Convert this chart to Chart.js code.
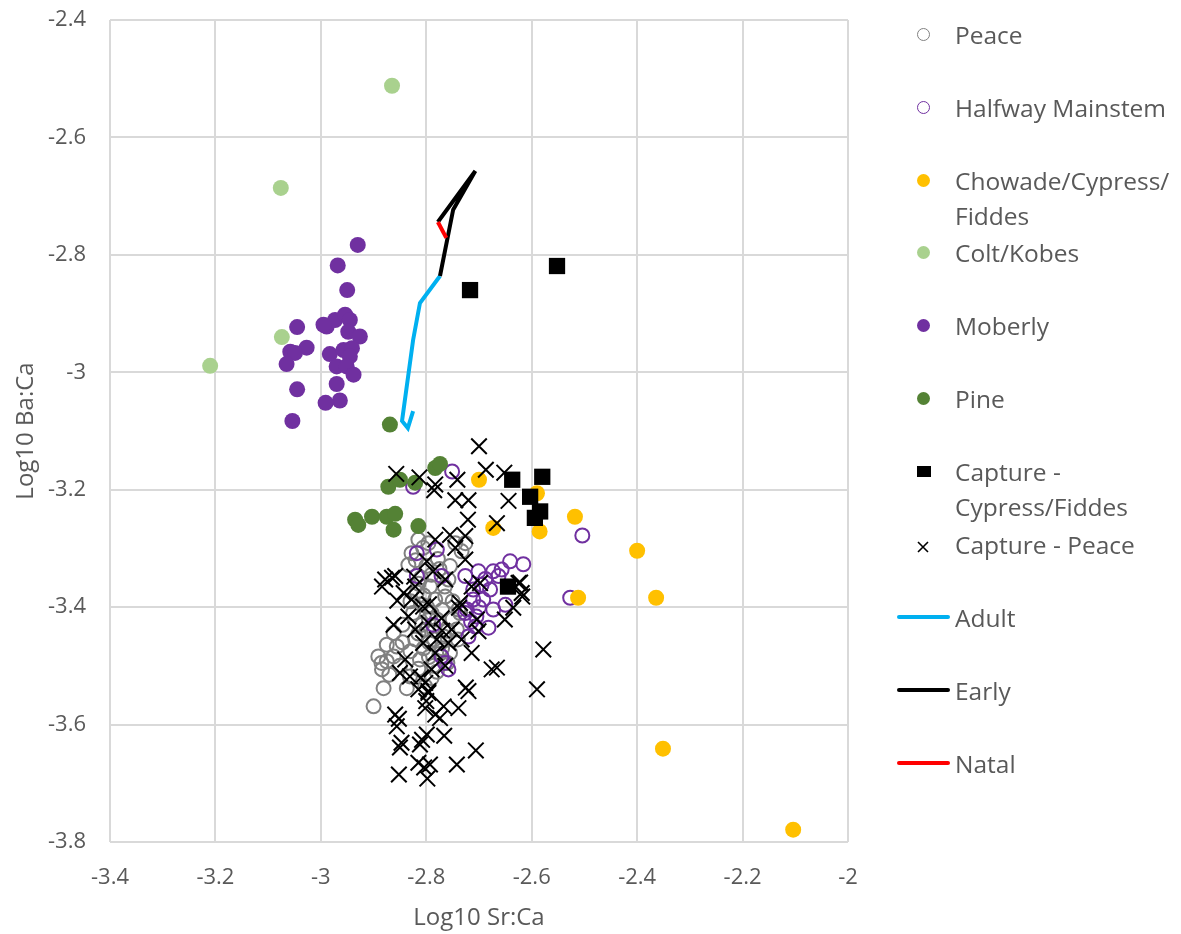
<!DOCTYPE html>
<html>
<head>
<meta charset="utf-8">
<script src="https://cdn.jsdelivr.net/npm/chart.js@4.4.0/dist/chart.umd.min.js"></script>
<style>
    body { margin: 0; background: #fff; font-family: "Open Sans", sans-serif; }
    #wrap { position: relative; width: 1181px; height: 934px; }
    #legend { position: absolute; left: 0; top: 0; }
    .item { position: absolute; left: 955px; font-size: 24.5px; color: #595959; line-height: 35px; white-space: nowrap; }
    .mk { position: absolute; box-sizing: border-box; }
</style>
</head>
<body>
<div id="wrap">
    <canvas id="chart" width="1181" height="934"></canvas>
    <div id="legend"></div>
</div>
<script>
const xTicks = [-3.4, -3.2, -3, -2.8, -2.6, -2.4, -2.2, -2];
const yTicks = [-2.4, -2.6, -2.8, -3, -3.2, -3.4, -3.6, -3.8];

// [Sr:Ca, Ba:Ca] pairs
const peace = [
    [-2.815, -3.285], [-2.796, -3.291], [-2.828, -3.308], [-2.806, -3.299], [-2.834, -3.328],
    [-2.755, -3.330], [-2.733, -3.305], [-2.745, -3.291], [-2.726, -3.291], [-2.793, -3.365],
    [-2.758, -3.353], [-2.783, -3.387], [-2.764, -3.382], [-2.739, -3.404], [-2.790, -3.410],
    [-2.875, -3.464], [-2.875, -3.492], [-2.884, -3.506], [-2.856, -3.467], [-2.862, -3.444],
    [-2.881, -3.538], [-2.900, -3.569], [-2.831, -3.518], [-2.837, -3.538], [-2.812, -3.489],
    [-2.821, -3.455], [-2.799, -3.438], [-2.767, -3.450], [-2.755, -3.478], [-2.780, -3.421],
    [-2.799, -3.399], [-2.825, -3.410], [-2.736, -3.410], [-2.742, -3.438], [-2.790, -3.521],
    [-2.802, -3.535], [-2.891, -3.484], [-2.862, -3.484], [-2.810, -3.350], [-2.778, -3.318],
    [-2.770, -3.470], [-2.786, -3.500], [-2.808, -3.430], [-2.845, -3.430], [-2.750, -3.420],
    [-2.818, -3.375], [-2.770, -3.405], [-2.785, -3.455], [-2.805, -3.470], [-2.760, -3.440],
    [-2.820, -3.320], [-2.800, -3.330], [-2.790, -3.345], [-2.815, -3.360], [-2.830, -3.390],
    [-2.810, -3.395], [-2.795, -3.420], [-2.815, -3.445], [-2.795, -3.460], [-2.775, -3.480],
    [-2.795, -3.485], [-2.780, -3.510], [-2.815, -3.505], [-2.765, -3.365], [-2.750, -3.390],
    [-2.740, -3.455], [-2.760, -3.495], [-2.845, -3.460], [-2.850, -3.500], [-2.870, -3.515],
    [-2.885, -3.495], [-2.805, -3.380], [-2.775, -3.335], [-2.785, -3.440], [-2.830, -3.475]
];
const halfway = [
    [-2.504, -3.278], [-2.527, -3.384], [-2.825, -3.195], [-2.751, -3.169], [-2.641, -3.322],
    [-2.616, -3.327], [-2.726, -3.347], [-2.701, -3.339], [-2.673, -3.339], [-2.657, -3.336],
    [-2.663, -3.347], [-2.695, -3.362], [-2.679, -3.370], [-2.711, -3.370], [-2.711, -3.387],
    [-2.692, -3.387], [-2.650, -3.396], [-2.723, -3.404], [-2.673, -3.404], [-2.705, -3.416],
    [-2.682, -3.435], [-2.707, -3.433], [-2.818, -3.308], [-2.780, -3.302], [-2.818, -3.347],
    [-2.771, -3.347], [-2.787, -3.430], [-2.771, -3.484], [-2.758, -3.506], [-2.720, -3.450],
    [-2.726, -3.410], [-2.700, -3.400], [-2.688, -3.352], [-2.715, -3.425], [-2.765, -3.495]
];
const chowade = [
    [-2.700, -3.183], [-2.673, -3.265], [-2.590, -3.206], [-2.585, -3.271], [-2.518, -3.246],
    [-2.512, -3.384], [-2.400, -3.304], [-2.364, -3.384], [-2.351, -3.641], [-2.104, -3.779]
];
const colt = [[-2.865, -2.512], [-3.076, -2.686], [-3.074, -2.940], [-3.210, -2.989]];
const moberly = [
    [-2.930, -2.783], [-2.968, -2.818], [-2.950, -2.860], [-3.045, -2.923], [-2.989, -2.922],
    [-2.973, -2.911], [-2.954, -2.902], [-2.945, -2.911], [-2.995, -2.919], [-2.948, -2.931],
    [-2.926, -2.939], [-3.027, -2.958], [-3.058, -2.965], [-3.049, -2.967], [-3.065, -2.986],
    [-2.983, -2.969], [-2.957, -2.962], [-2.941, -2.959], [-2.945, -2.973], [-2.970, -2.990],
    [-2.951, -2.990], [-2.938, -3.004], [-2.970, -3.020], [-3.045, -3.029], [-2.964, -3.048],
    [-2.991, -3.052], [-3.054, -3.083]
];
const pine = [
    [-2.869, -3.089], [-2.872, -3.195], [-2.850, -3.183], [-2.821, -3.188], [-2.783, -3.163],
    [-2.774, -3.156], [-2.903, -3.246], [-2.875, -3.246], [-2.859, -3.241], [-2.862, -3.268],
    [-2.815, -3.262], [-2.935, -3.251], [-2.929, -3.260]
];
const captureCF = [
    [-2.717, -2.860], [-2.552, -2.819], [-2.637, -3.183], [-2.580, -3.178], [-2.603, -3.212],
    [-2.584, -3.237], [-2.594, -3.248], [-2.645, -3.365]
];
const capturePeace = [
    [-2.700, -3.126], [-2.687, -3.166], [-2.857, -3.173], [-2.813, -3.179], [-2.783, -3.191],
    [-2.785, -3.201], [-2.741, -3.183], [-2.652, -3.171], [-2.745, -3.218], [-2.720, -3.218],
    [-2.644, -3.219], [-2.721, -3.251], [-2.666, -3.257], [-2.622, -3.358], [-2.618, -3.382],
    [-2.651, -3.421], [-2.666, -3.503], [-2.578, -3.472], [-2.590, -3.540], [-2.706, -3.644],
    [-2.742, -3.668], [-2.725, -3.537], [-2.738, -3.401], [-2.884, -3.365], [-2.865, -3.350],
    [-2.855, -3.389], [-2.823, -3.348], [-2.852, -3.590], [-2.850, -3.639], [-2.852, -3.685],
    [-2.804, -3.673], [-2.798, -3.692], [-2.766, -3.619], [-2.808, -3.626], [-2.859, -3.583],
    [-2.856, -3.603], [-2.847, -3.631], [-2.812, -3.634], [-2.799, -3.617], [-2.802, -3.572],
    [-2.783, -3.583], [-2.774, -3.589], [-2.767, -3.569], [-2.739, -3.572], [-2.796, -3.546],
    [-2.720, -3.543], [-2.815, -3.665], [-2.793, -3.668], [-2.862, -3.430], [-2.834, -3.416],
    [-2.821, -3.438], [-2.796, -3.427], [-2.771, -3.419], [-2.752, -3.438], [-2.733, -3.455],
    [-2.714, -3.478], [-2.758, -3.461], [-2.783, -3.478], [-2.806, -3.461], [-2.840, -3.489],
    [-2.850, -3.512], [-2.831, -3.518], [-2.802, -3.529], [-2.796, -3.543], [-2.790, -3.506],
    [-2.764, -3.500], [-2.676, -3.506], [-2.878, -3.353], [-2.859, -3.347], [-2.843, -3.376],
    [-2.821, -3.365], [-2.799, -3.322], [-2.783, -3.285], [-2.755, -3.277], [-2.726, -3.279],
    [-2.745, -3.299], [-2.726, -3.319], [-2.787, -3.339], [-2.764, -3.353], [-2.806, -3.399],
    [-2.828, -3.387], [-2.714, -3.365], [-2.698, -3.359], [-2.625, -3.359], [-2.619, -3.376],
    [-2.635, -3.401], [-2.704, -3.421], [-2.701, -3.441], [-2.736, -3.393], [-2.810, -3.520],
    [-2.815, -3.540], [-2.800, -3.560], [-2.780, -3.455], [-2.770, -3.440], [-2.795, -3.395]
];
const adult = [[-2.825, -3.066], [-2.835, -3.095], [-2.846, -3.083], [-2.825, -2.945], [-2.812, -2.882], [-2.774, -2.836]];
const early = [[-2.774, -2.836], [-2.749, -2.723], [-2.707, -2.657], [-2.778, -2.744]];
const natal = [[-2.778, -2.744], [-2.762, -2.771]];

const pts = arr => arr.map(p => ({ x: p[0], y: p[1] }));

const series = [
    { label: 'Peace', data: peace, pointStyle: 'circle', pointRadius: 7, borderColor: '#808080', backgroundColor: 'rgba(0,0,0,0)', borderWidth: 2 },
    { label: 'Halfway Mainstem', data: halfway, pointStyle: 'circle', pointRadius: 7, borderColor: '#7030A0', backgroundColor: 'rgba(0,0,0,0)', borderWidth: 2 },
    { label: ['Chowade/Cypress/', 'Fiddes'], data: chowade, pointStyle: 'circle', pointRadius: 8, borderColor: '#FFC000', backgroundColor: '#FFC000', borderWidth: 0 },
    { label: 'Colt/Kobes', data: colt, pointStyle: 'circle', pointRadius: 8, borderColor: '#A9D18E', backgroundColor: '#A9D18E', borderWidth: 0 },
    { label: 'Moberly', data: moberly, pointStyle: 'circle', pointRadius: 8, borderColor: '#7030A0', backgroundColor: '#7030A0', borderWidth: 0 },
    { label: 'Pine', data: pine, pointStyle: 'circle', pointRadius: 8, borderColor: '#548235', backgroundColor: '#548235', borderWidth: 0 },
    { label: ['Capture -', 'Cypress/Fiddes'], data: captureCF, pointStyle: 'rect', pointRadius: 11.5, borderColor: '#000', backgroundColor: '#000', borderWidth: 0 },
    { label: 'Capture - Peace', data: capturePeace, pointStyle: 'crossRot', pointRadius: 11, borderColor: '#000', backgroundColor: '#000', borderWidth: 2 },
    { label: 'Adult', data: adult, line: true, borderColor: '#00B0F0' },
    { label: 'Early', data: early, line: true, borderColor: '#000000' },
    { label: 'Natal', data: natal, line: true, borderColor: '#FF0000' }
];

const datasets = series.map((s, i) => s.line ? {
    label: s.label, data: pts(s.data), showLine: true, borderColor: s.borderColor,
    borderWidth: 4, pointRadius: 0, fill: false, order: 20 - i
} : {
    label: s.label, data: pts(s.data), pointStyle: s.pointStyle, pointRadius: s.pointRadius,
    pointBorderWidth: s.borderWidth, borderColor: s.borderColor, backgroundColor: s.backgroundColor,
    pointBorderColor: s.borderColor, pointBackgroundColor: s.backgroundColor, order: 20 - i
});

const tickFont = { family: '"Open Sans", sans-serif', size: 22 };
const titleFont = { family: '"Open Sans", sans-serif', size: 24 };
const fmt = v => String(Number(v.toFixed(1)));

new Chart(document.getElementById('chart').getContext('2d'), {
    type: 'scatter',
    data: { datasets: datasets },
    options: {
        responsive: false,
        animation: false,
        layout: { padding: { top: 20, right: 333, left: 0, bottom: 0 } },
        plugins: { legend: { display: false }, tooltip: { enabled: false } },
        scales: {
            x: {
                type: 'linear', min: -3.4, max: -2,
                afterBuildTicks: s => { s.ticks = xTicks.map(v => ({ value: v })); },
                afterFit: s => { s.height = 92; s.paddingLeft = 0; s.paddingRight = 0; },
                grid: { color: '#d9d9d9', lineWidth: 2, drawTicks: false },
                border: { display: false },
                ticks: { color: '#595959', font: tickFont, padding: 23, callback: fmt, maxRotation: 0 },
                title: { display: true, text: 'Log10 Sr:Ca', color: '#595959', font: titleFont, padding: { top: 0, bottom: 1 } }
            },
            y: {
                type: 'linear', min: -3.8, max: -2.4,
                afterBuildTicks: s => { s.ticks = yTicks.map(v => ({ value: v })); },
                afterFit: s => { s.width = 110; s.paddingTop = 0; s.paddingBottom = 0; },
                grid: { color: '#d9d9d9', lineWidth: 2, drawTicks: false },
                border: { display: false },
                ticks: { color: '#595959', font: tickFont, padding: 24, callback: fmt },
                title: { display: true, text: 'Log10 Ba:Ca', color: '#595959', font: titleFont, padding: { top: 12, bottom: 0 } }
            }
        }
    }
});

// legend drawn as html next to the plot
const legendRows = [34, 107, 180, 252, 325, 398, 471, 544, 617, 690, 763];
const legend = document.getElementById('legend');
series.forEach((s, i) => {
    const cy = legendRows[i];
    const lines = Array.isArray(s.label) ? s.label : [s.label];
    const t = document.createElement('div');
    t.className = 'item';
    t.style.top = (cy - 17.5) + 'px';
    t.innerHTML = lines.join('<br>');
    legend.appendChild(t);

    const m = document.createElement('div');
    m.className = 'mk';
    if (s.line) {
        Object.assign(m.style, { left: '897px', top: (cy - 2) + 'px', width: '53px', height: '4px', background: s.borderColor, borderRadius: '2px' });
    } else if (s.pointStyle === 'circle') {
        const open = s.backgroundColor === 'rgba(0,0,0,0)';
        Object.assign(m.style, { left: '917px', top: (cy - 6.5) + 'px', width: '13px', height: '13px', borderRadius: '50%',
            border: open ? '1.5px solid ' + s.borderColor : 'none', background: open ? 'transparent' : s.backgroundColor });
    } else if (s.pointStyle === 'rect') {
        Object.assign(m.style, { left: '917px', top: (cy - 5.5) + 'px', width: '14px', height: '11px', background: '#000' });
    } else {
        m.innerHTML = '<svg width="14" height="14"><path d="M2 2L12 12M12 2L2 12" stroke="#000" stroke-width="1.6"/></svg>';
        Object.assign(m.style, { left: '916px', top: (cy - 7) + 'px', width: '14px', height: '14px' });
    }
    legend.appendChild(m);
});
</script>
</body>
</html>
